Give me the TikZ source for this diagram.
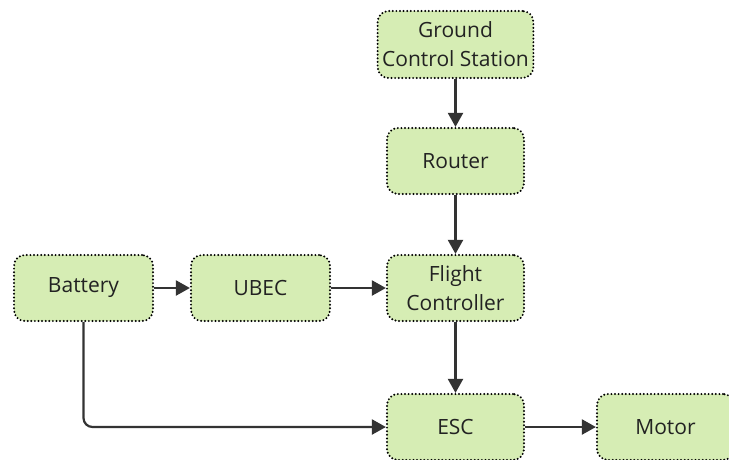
\documentclass[tikz,border=0pt]{standalone}
\usepackage{fontspec}
\setmainfont{Open Sans}
\usetikzlibrary{arrows.meta}

\definecolor{boxfill}{HTML}{D6EDB4}
\definecolor{linegray}{HTML}{333333}
\definecolor{textgray}{HTML}{222222}

\tikzset{
  block/.style={rectangle, rounded corners=11pt, draw=black, fill=boxfill,
    line width=2.2pt, dash pattern=on 0pt off 3.6pt, line cap=round,
    minimum width=137pt, minimum height=66pt, inner xsep=4.5pt,
    align=center, text=textgray, font=\fontsize{21}{29}\selectfont},
  link/.style={draw=linegray, line width=2.2pt,
    -{Triangle[length=14pt,width=15pt]}}
}

\begin{document}
\begin{tikzpicture}[x=1pt,y=-1pt]
\useasboundingbox (0,0) rectangle (729,459);

\node [block, minimum height=67pt] (gcs) at (455.5,44.5) {Ground\\Control Station};
\node [block] (router) at (455.5,161) {Router};
\node [block] (fc) at (455.5,288) {Flight\\Controller};
\node [block, minimum width=139pt] (battery) at (83.5,288) {Battery};
\node [block, minimum width=139pt] (ubec) at (260.5,288) {UBEC};
\node [block] (esc) at (455.5,427) {ESC};
\node [block] (motor) at (665.5,427) {Motor};

\draw [link] (gcs) -- (router);
\draw [link] (router) -- (fc);
\draw [link] (fc) -- (esc);
\draw [link] (battery) -- (ubec);
\draw [link] (ubec) -- (fc);
\draw [link] (esc) -- (motor);
\draw [link, rounded corners=9pt] (battery.south) |- (esc.west);
\end{tikzpicture}
\end{document}
